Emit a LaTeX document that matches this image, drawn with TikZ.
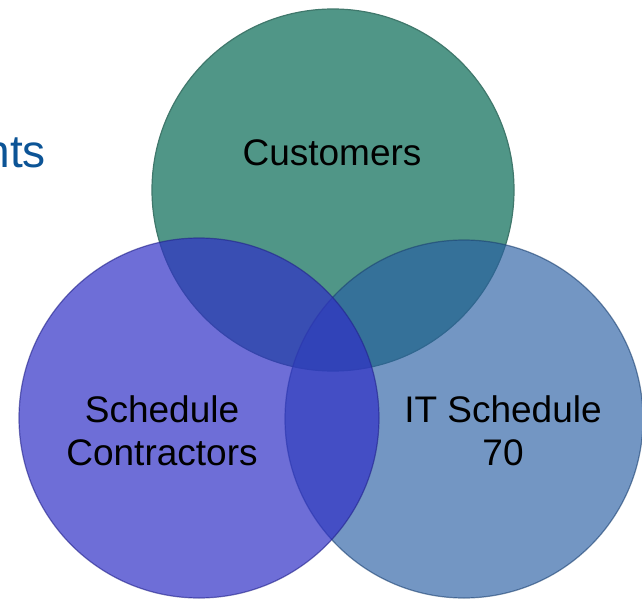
\documentclass[tikz,border=0pt]{standalone}
\usepackage{fontspec}
\setmainfont{Liberation Sans}
\usepackage{xcolor}
\usetikzlibrary{positioning}

\definecolor{custgreen}{RGB}{80,150,135}
\definecolor{contrblue}{RGB}{48,48,198}
\definecolor{itblue}{RGB}{40,94,163}
\definecolor{headblue}{RGB}{12,84,150}

\begin{document}
\begin{tikzpicture}
	[x=1pt,y=-1pt,
	venn/.style={circle, inner sep=0pt, minimum size=#1, line width=1.2pt},
	lbl/.style={font=\fontsize{37}{43}\selectfont, align=center, text=black}]

	\useasboundingbox (0,0) rectangle (642,599);
	\clip (0,0) rectangle (642,599);

	% heading cut off at the left edge
	\node[anchor=base east, inner sep=0pt, text=headblue,
		font=\fontsize{46}{50}\selectfont] (head) at (46,167) {nts};

	% the three sets, back to front
	\node[venn=362pt, fill=custgreen, draw=custgreen!80!black] (cust) at (333,190) {};
	\node[venn=358pt, fill=itblue, fill opacity=0.65, draw=itblue!70!black,
		draw opacity=0.6] (itsched) at (464,419) {};
	\node[venn=360pt, fill=contrblue, fill opacity=0.7, draw=contrblue!70!black,
		draw opacity=0.6] (contr) at (199,418) {};

	% set names (base = last line)
	\node[lbl] (custname) at (332,153) {Customers};
	\node[lbl, anchor=base] (contrname) at (162,465) {Schedule\\Contractors};
	\node[lbl, anchor=base] (itname) at (503,465) {IT Schedule\\70};

\end{tikzpicture}
\end{document}
